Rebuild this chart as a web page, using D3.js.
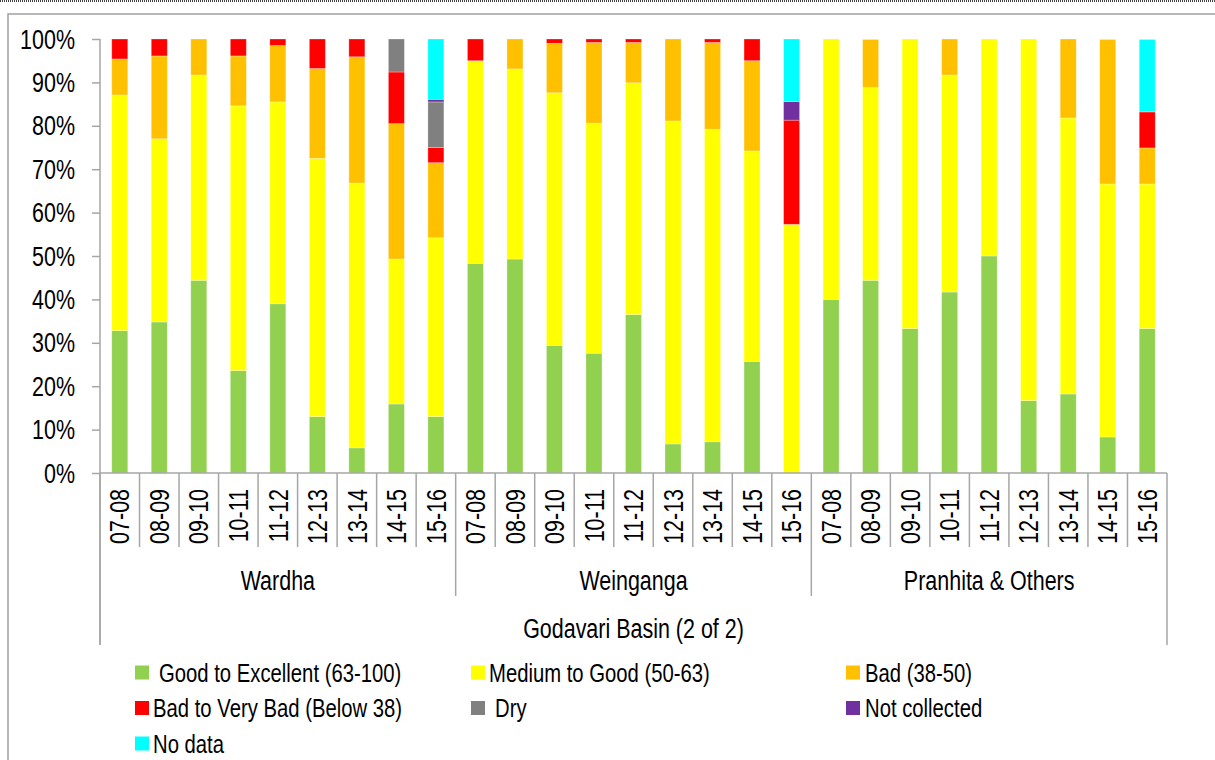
<!DOCTYPE html>
<html>
<head>
<meta charset="utf-8">
<script src="https://cdn.jsdelivr.net/npm/d3@7/dist/d3.min.js"></script>
<style>
  html, body { margin: 0; padding: 0; background: #fff; }
  svg { display: block; }
  text { font-family: 'Liberation Sans', Arial, sans-serif; fill: #000; }
</style>
</head>
<body>
<svg id="chart" width="1215" height="760"></svg>
<script>
// ---- data ----
const groups = ["Wardha", "Weinganga", "Pranhita & Others"];
const years = ["07-08", "08-09", "09-10", "10-11", "11-12", "12-13", "13-14", "14-15", "15-16"];
const basinTitle = "Godavari Basin (2 of 2)";
const yTicks = [0, 10, 20, 30, 40, 50, 60, 70, 80, 90, 100];

const seriesNames = ["Good to Excellent (63-100)", "Medium to Good (50-63)", "Bad (38-50)",
  "Bad to Very Bad (Below 38)", "Dry", "Not collected", "No data"];
const seriesColors = ["#92D050", "#FFFF00", "#FFC000", "#FF0000", "#808080", "#7030A0", "#00FFFF"];

// values in %, order: Wardha(9), Weinganga(9), Pranhita & Others(9)
const goodToExcellent = [32.8, 34.8, 44.4, 23.6, 39.0, 13.0, 5.8, 15.9, 13.0,
                         48.3, 49.3, 29.4, 27.6, 36.5, 6.7, 7.2, 25.7, 0,
                         40.0, 44.4, 33.3, 41.7, 50.0, 16.7, 18.2, 8.3, 33.3];
const mediumToGood    = [54.3, 42.2, 47.3, 61.0, 46.5, 59.5, 61.0, 33.4, 41.2,
                         46.7, 43.8, 58.2, 53.0, 53.4, 74.4, 72.0, 48.5, 57.3,
                         60.0, 44.4, 66.7, 50.0, 50.0, 83.3, 63.6, 58.3, 33.3];
const bad             = [8.3, 19.1, 8.3, 11.5, 13.0, 20.7, 29.1, 31.2, 17.3,
                         0, 6.9, 11.4, 18.6, 9.3, 18.9, 20.0, 20.8, 0,
                         0, 11.1, 0, 8.3, 0, 0, 18.2, 33.3, 8.3];
const badToVeryBad    = [4.6, 3.9, 0, 3.9, 1.5, 6.8, 4.1, 11.9, 3.5,
                         5.0, 0, 1.0, 0.8, 0.8, 0, 0.8, 5.0, 24.0,
                         0, 0, 0, 0, 0, 0, 0, 0, 8.3];
const dry             = [0, 0, 0, 0, 0, 0, 0, 7.6, 10.5,
                         0, 0, 0, 0, 0, 0, 0, 0, 0,
                         0, 0, 0, 0, 0, 0, 0, 0, 0];
const notCollected    = [0, 0, 0, 0, 0, 0, 0, 0, 0.6,
                         0, 0, 0, 0, 0, 0, 0, 0, 4.3,
                         0, 0, 0, 0, 0, 0, 0, 0, 0];
const noData          = [0, 0, 0, 0, 0, 0, 0, 0, 13.9,
                         0, 0, 0, 0, 0, 0, 0, 0, 14.4,
                         0, 0, 0, 0, 0, 0, 0, 0, 16.7];

const seriesValues = [goodToExcellent, mediumToGood, bad, badToVeryBad, dry, notCollected, noData];

// ---- build table ----
const rows = [];
groups.forEach((g, gi) => years.forEach((yr, yi) => {
  const i = gi * years.length + yi;
  const r = { key: g + "|" + yr, group: g, year: yr };
  seriesNames.forEach((s, si) => r[s] = seriesValues[si][i]);
  rows.push(r);
}));

// ---- layout ----
const svg = d3.select("#chart");
const pLeft = 100, pRight = 1167, pTop = 39, pBottom = 473;
const axisColor = "#a6a6a6";
const condense = 0.795;

// frame
svg.append("line").attr("x1", 0).attr("x2", 1215).attr("y1", 1).attr("y2", 1)
  .attr("stroke", "#444").attr("stroke-width", 2).attr("stroke-dasharray", "1,1");
svg.append("path").attr("d", `M8,760 L8,14 L1215,14`).attr("fill", "none")
  .attr("stroke", "#a0a0a0").attr("stroke-width", 1.5);

const x = d3.scaleBand().domain(rows.map(d => d.key)).range([pLeft, pRight]).paddingInner(0.595).paddingOuter(0.2975);
const xSlot = d3.scaleBand().domain(rows.map(d => d.key)).range([pLeft, pRight]).padding(0);
const y = d3.scaleLinear().domain([0, 100]).range([pBottom, pTop]);

const stack = d3.stack().keys(seriesNames);
const stacked = stack(rows);

const layers = svg.append("g").selectAll("g").data(stacked).join("g")
  .attr("fill", (d, i) => seriesColors[i]);
layers.selectAll("rect").data(d => d.filter(p => p[1] - p[0] > 0)).join("rect")
  .attr("x", d => x(d.data.key))
  .attr("width", x.bandwidth())
  .attr("y", d => y(d[1]))
  .attr("height", d => y(d[0]) - y(d[1]))
  .attr("stroke", "#fff").attr("stroke-opacity", 0.35).attr("stroke-width", 0.8);

// y axis
const yAxis = d3.axisLeft(y).tickValues(yTicks).tickFormat(d => d + "%").tickSize(8).tickPadding(17);
const gy = svg.append("g").attr("transform", `translate(${pLeft},0)`).call(yAxis);
gy.select(".domain").remove();
gy.selectAll(".tick line").attr("stroke", axisColor).attr("stroke-width", 1.5);
gy.selectAll(".tick text").attr("font-size", 27).attr("fill", "#000").attr("dy", null)
  .attr("dominant-baseline", "central")
  .style("font-family", "'Liberation Sans', Arial, sans-serif");

// x axis (multi-level)
const gx = svg.append("g");
gx.append("line").attr("x1", pLeft).attr("x2", pRight).attr("y1", pBottom).attr("y2", pBottom)
  .attr("stroke", axisColor).attr("stroke-width", 1.5);
gx.append("line").attr("x1", pLeft).attr("x2", pLeft).attr("y1", pTop).attr("y2", 645)
  .attr("stroke", axisColor).attr("stroke-width", 1.5);

// boundaries between categories
const boundaries = rows.map((d, i) => ({ x: xSlot(d.key), i }));
boundaries.push({ x: xSlot(rows[rows.length - 1].key) + xSlot.bandwidth(), i: rows.length });
gx.selectAll("line.b").data(boundaries).join("line").attr("class", "b")
  .attr("x1", d => d.x).attr("x2", d => d.x)
  .attr("y1", pBottom)
  .attr("y2", d => (d.i === 0 || d.i === rows.length) ? 645 : (d.i % years.length === 0 ? 596 : 547))
  .attr("stroke", axisColor).attr("stroke-width", 1.5);

// year labels
gx.selectAll("text.yr").data(rows).join("text").attr("class", "yr")
  .attr("transform", d => `translate(${xSlot(d.key) + xSlot.bandwidth() / 2 + 9.7},489) rotate(-90)`)
  .attr("text-anchor", "end").attr("font-size", 27)
  .text(d => d.year);

// group labels
gx.selectAll("text.grp").data(groups).join("text").attr("class", "grp")
  .attr("x", g => {
    const ks = rows.filter(r => r.group === g).map(r => r.key);
    return (xSlot(ks[0]) + xSlot(ks[ks.length - 1]) + xSlot.bandwidth()) / 2;
  })
  .attr("y", 589.5).attr("text-anchor", "middle").attr("font-size", 27)
  .text(g => g);

gx.append("text").attr("x", (pLeft + pRight) / 2).attr("y", 638)
  .attr("text-anchor", "middle").attr("font-size", 27).text(basinTitle);

// legend
const legendPos = [
  { sx: 135, tx: 159, row: 0 }, { sx: 471, tx: 489, row: 0 }, { sx: 846, tx: 865, row: 0 },
  { sx: 135, tx: 153, row: 1 }, { sx: 471, tx: 495, row: 1 }, { sx: 846, tx: 865, row: 1 },
  { sx: 135, tx: 153, row: 2 }
];
const rowY = [672.5, 708, 743.5];
const lg = svg.append("g").selectAll("g").data(seriesNames).join("g");
lg.append("rect")
  .attr("x", (d, i) => legendPos[i].sx)
  .attr("y", (d, i) => rowY[legendPos[i].row] - 7)
  .attr("width", 14).attr("height", 14)
  .attr("fill", (d, i) => seriesColors[i]);
lg.append("text")
  .attr("x", (d, i) => legendPos[i].tx)
  .attr("y", (d, i) => rowY[legendPos[i].row] + 9)
  .attr("font-size", 25.5)
  .text(d => d);

// condense all text horizontally (narrow typeface look)
svg.selectAll("text").each(function () {
  const L = this.getComputedTextLength();
  d3.select(this).attr("textLength", L * condense).attr("lengthAdjust", "spacingAndGlyphs");
});
</script>
</body>
</html>
